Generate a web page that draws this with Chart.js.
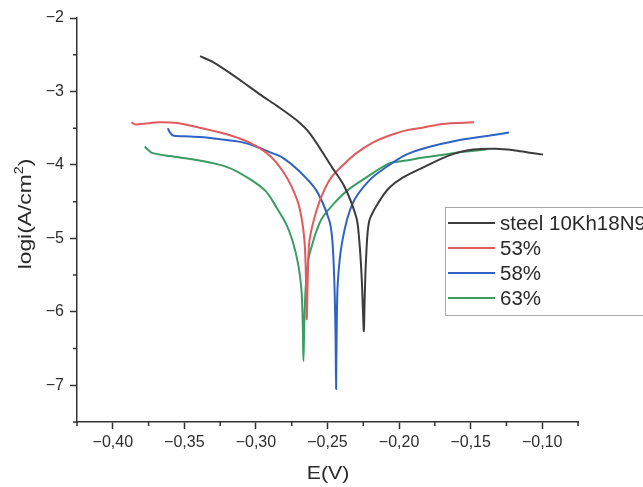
<!DOCTYPE html>
<html>
<head>
<meta charset="utf-8">
<script src="https://cdn.jsdelivr.net/npm/chart.js@4.4.1/dist/chart.umd.min.js"></script>
<style>
html,body{margin:0;padding:0;background:#fff;}
#wrap{width:643px;height:487px;position:relative;}
</style>
</head>
<body>
<div id="wrap"><canvas id="c" width="643" height="487"></canvas></div>
<script>
const seriesNames = ['steel 10Kh18N9', '53%', '58%', '63%'];
const seriesColors = ['#3c3c3c', '#e05a5e', '#2f62c4', '#3a9c62'];

const steelX = [-0.339,-0.330,-0.318,-0.305,-0.295,-0.285,-0.2717,-0.262,-0.2466,-0.238,-0.2298,-0.2278,-0.2262,-0.2252,-0.2246,-0.2240,-0.2230,-0.2208,-0.2140,-0.2068,-0.1980,-0.1838,-0.1700,-0.1601,-0.1480,-0.1322,-0.1200,-0.1100,-0.0994];
const steelY = [-2.52,-2.60,-2.75,-2.93,-3.07,-3.20,-3.39,-3.58,-4.04,-4.30,-4.72,-5.03,-5.50,-6.00,-6.26,-5.80,-5.25,-4.76,-4.50,-4.31,-4.18,-4.04,-3.91,-3.84,-3.79,-3.78,-3.80,-3.83,-3.86];

const p53X = [-0.3870,-0.3840,-0.3780,-0.3680,-0.3550,-0.3400,-0.3250,-0.3100,-0.3000,-0.2900,-0.2814,-0.2750,-0.2696,-0.2661,-0.2650,-0.2645,-0.2638,-0.2626,-0.2577,-0.2520,-0.2466,-0.2380,-0.2298,-0.2187,-0.2068,-0.1950,-0.1830,-0.1720,-0.1600,-0.1476];
const p53Y = [-3.42,-3.45,-3.44,-3.42,-3.43,-3.49,-3.56,-3.65,-3.74,-3.88,-4.08,-4.30,-4.58,-5.03,-5.60,-6.10,-5.55,-5.03,-4.62,-4.33,-4.15,-3.98,-3.84,-3.70,-3.60,-3.53,-3.49,-3.45,-3.43,-3.42];

const p58X = [-0.3616,-0.3600,-0.3580,-0.3500,-0.3393,-0.3250,-0.3100,-0.3000,-0.2900,-0.2814,-0.2700,-0.2577,-0.2487,-0.2466,-0.2452,-0.2444,-0.2440,-0.2436,-0.2428,-0.2396,-0.2326,-0.2208,-0.2068,-0.1950,-0.1800,-0.1601,-0.1400,-0.1232];
const p58Y = [-3.50,-3.56,-3.60,-3.61,-3.62,-3.65,-3.69,-3.75,-3.83,-3.90,-4.08,-4.35,-4.76,-5.03,-5.60,-6.30,-7.05,-6.30,-5.60,-5.03,-4.53,-4.21,-4.00,-3.86,-3.76,-3.67,-3.61,-3.56];

const p63X = [-0.3777,-0.3750,-0.3721,-0.3600,-0.3393,-0.3200,-0.3045,-0.2930,-0.2856,-0.2790,-0.2745,-0.2705,-0.2682,-0.2673,-0.2668,-0.2662,-0.2652,-0.2635,-0.2612,-0.2577,-0.2536,-0.2438,-0.2350,-0.2229,-0.2068,-0.1950,-0.1830,-0.1720,-0.1550,-0.1392];
const p63Y = [-3.75,-3.80,-3.84,-3.88,-3.94,-4.03,-4.19,-4.36,-4.58,-4.80,-5.03,-5.35,-5.70,-6.15,-6.67,-6.15,-5.65,-5.30,-5.12,-4.90,-4.72,-4.49,-4.33,-4.17,-3.98,-3.94,-3.90,-3.87,-3.82,-3.79];

const xTickValues = [-0.40,-0.35,-0.30,-0.25,-0.20,-0.15,-0.10];
const xTickLabels = ['\u22120,40','\u22120,35','\u22120,30','\u22120,25','\u22120,20','\u22120,15','\u22120,10'];
const yTickValues = [-2,-3,-4,-5,-6,-7];
const yTickLabels = ['\u22122','\u22123','\u22124','\u22125','\u22126','\u22127'];
const xMinorValues = [-0.425,-0.375,-0.325,-0.275,-0.225,-0.175,-0.125,-0.075];
const yMinorValues = [-2.5,-3.5,-4.5,-5.5,-6.5,-7.5];
const xTitle = 'E(V)';
const yTitleMain = 'logi(A/cm';
const yTitleSup = '2';
const yTitleEnd = ')';

const xAll = [steelX, p53X, p58X, p63X];
const yAll = [steelY, p53Y, p58Y, p63Y];

const datasets = seriesNames.map((name, i) => ({
  label: name,
  data: xAll[i].map((x, k) => ({x: x, y: yAll[i][k]})),
  borderColor: seriesColors[i],
  backgroundColor: seriesColors[i],
  borderWidth: 2,
  pointRadius: 0,
  showLine: true,
  tension: 0.3,
  fill: false
}));

const AXIS = '#333333';
const FONT = '"Liberation Sans", Arial, sans-serif';

const minorTicks = {
  id: 'minorTicks',
  afterDraw(chart) {
    const ctx = chart.ctx;
    const xs = chart.scales.x, ys = chart.scales.y;
    const ca = chart.chartArea;
    ctx.save();
    ctx.strokeStyle = AXIS;
    ctx.lineWidth = 1.5;
    ctx.beginPath();
    xMinorValues.forEach(v => {
      const px = xs.getPixelForValue(v);
      if (px < ca.left - 0.5 || px > ca.right + 0.5) return;
      ctx.moveTo(px, ca.bottom); ctx.lineTo(px, ca.bottom + 4);
    });
    yMinorValues.forEach(v => {
      const py = ys.getPixelForValue(v);
      if (py < ca.top - 0.5 || py > ca.bottom + 0.5) return;
      ctx.moveTo(ca.left, py); ctx.lineTo(ca.left - 4, py);
    });
    ctx.stroke();
    ctx.restore();
  }
};

const axisTitles = {
  id: 'axisTitles',
  afterDraw(chart) {
    const ctx = chart.ctx;
    ctx.save();
    ctx.fillStyle = '#2a2a2a';
    ctx.font = '19px ' + FONT;
    ctx.textAlign = 'center';
    ctx.textBaseline = 'middle';
    ctx.save();
    ctx.translate(328, 474);
    ctx.scale(1.12, 1);
    ctx.fillText(xTitle, 0, 0);
    ctx.restore();
    ctx.save();
    ctx.translate(25, 214);
    ctx.rotate(-Math.PI / 2);
    ctx.scale(1.2, 1);
    ctx.font = '19px ' + FONT;
    const w1 = ctx.measureText(yTitleMain).width;
    ctx.font = '12px ' + FONT;
    const w2 = ctx.measureText(yTitleSup).width;
    ctx.font = '19px ' + FONT;
    const w3 = ctx.measureText(yTitleEnd).width;
    const total = w1 + w2 + w3;
    let x0 = -total / 2;
    ctx.textAlign = 'left';
    ctx.textBaseline = 'alphabetic';
    const base = 6;
    ctx.fillText(yTitleMain, x0, base);
    ctx.font = '12px ' + FONT;
    ctx.fillText(yTitleSup, x0 + w1, base - 8);
    ctx.font = '19px ' + FONT;
    ctx.fillText(yTitleEnd, x0 + w1 + w2, base);
    ctx.restore();
    ctx.restore();
  }
};

const boxLegend = {
  id: 'boxLegend',
  afterDraw(chart) {
    const ctx = chart.ctx;
    ctx.save();
    const bx = 445, by = 207, bw = 220, bh = 108;
    ctx.fillStyle = '#ffffff';
    ctx.fillRect(bx, by, bw, bh);
    ctx.strokeStyle = '#a8a8a8';
    ctx.lineWidth = 1;
    ctx.strokeRect(bx + 0.5, by + 0.5, bw, bh);
    ctx.font = '20.5px ' + FONT;
    ctx.textBaseline = 'middle';
    ctx.textAlign = 'left';
    const ys0 = [223, 248, 273, 298];
    seriesNames.forEach((n, i) => {
      ctx.strokeStyle = seriesColors[i];
      ctx.lineWidth = 2;
      ctx.beginPath();
      ctx.moveTo(448, ys0[i]); ctx.lineTo(495, ys0[i]);
      ctx.stroke();
      ctx.fillStyle = '#2a2a2a';
      ctx.fillText(n, 500, ys0[i] + 1);
    });
    ctx.restore();
  }
};

new Chart(document.getElementById('c'), {
  type: 'scatter',
  data: { datasets },
  plugins: [minorTicks, axisTitles, boxLegend],
  options: {
    responsive: false,
    animation: false,
    events: [],
    layout: { padding: { left: 0, right: 65, top: 18, bottom: 0 } },
    plugins: { legend: { display: false }, tooltip: { enabled: false } },
    scales: {
      x: {
        type: 'linear',
        min: -0.425, max: -0.075,
        afterBuildTicks: s => { s.ticks = xTickValues.map(v => ({value: v})); },
        afterFit: s => { s.height = 65; },
        ticks: {
          callback: (v) => { const i = xTickValues.findIndex(t => Math.abs(t - v) < 1e-9); return i >= 0 ? xTickLabels[i] : ''; },
          color: '#2e2e2e',
          font: { size: 16, family: FONT },
          padding: 4,
          maxRotation: 0, autoSkip: false
        },
        grid: { drawOnChartArea: false, drawTicks: true, tickLength: 7, tickColor: AXIS, tickWidth: 1.5 },
        border: { display: true, color: AXIS, width: 1.5 },
        title: { display: false }
      },
      y: {
        type: 'linear',
        min: -7.5, max: -2,
        afterBuildTicks: s => { s.ticks = yTickValues.map(v => ({value: v})); },
        afterFit: s => { s.width = 77; },
        ticks: {
          callback: (v) => { const i = yTickValues.findIndex(t => Math.abs(t - v) < 1e-9); return i >= 0 ? yTickLabels[i] : ''; },
          color: '#2e2e2e',
          font: { size: 16, family: FONT },
          padding: 6,
          autoSkip: false
        },
        grid: { drawOnChartArea: false, drawTicks: true, tickLength: 7, tickColor: AXIS, tickWidth: 1.5 },
        border: { display: true, color: AXIS, width: 1.5 },
        title: { display: false }
      }
    }
  }
});
</script>
</body>
</html>
